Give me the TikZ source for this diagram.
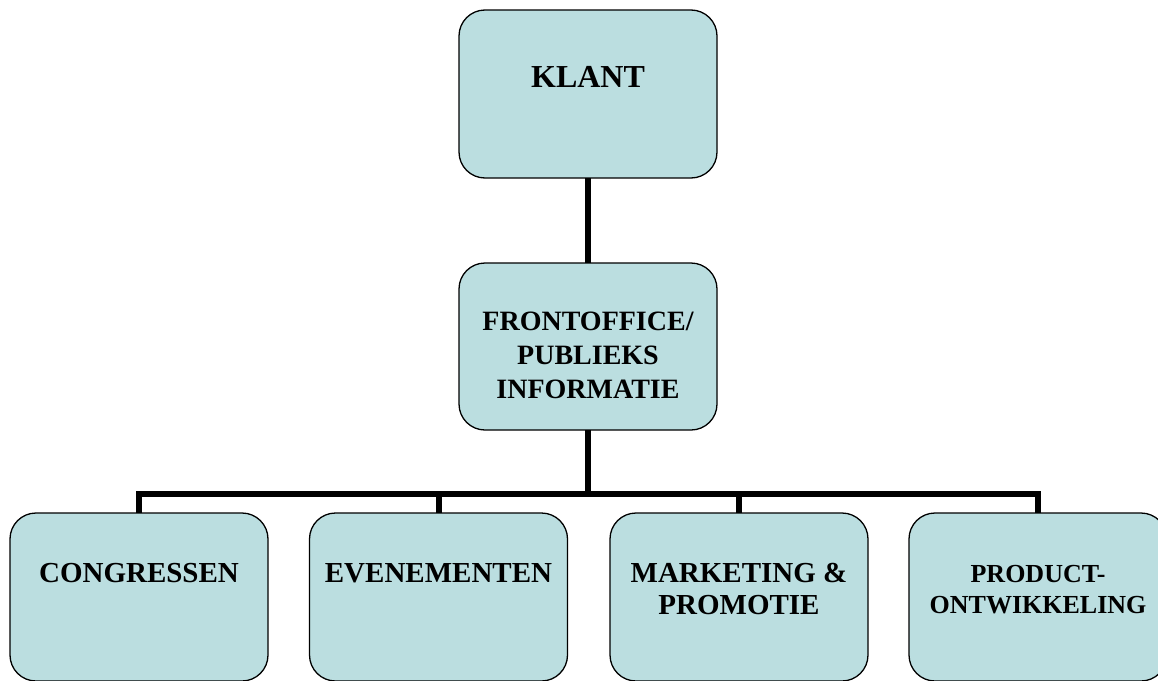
\documentclass[tikz,border=0pt]{standalone}
\usepackage{fontspec}
\setmainfont{Liberation Serif}
\usetikzlibrary{positioning}
\definecolor{boxfill}{RGB}{187,222,224}
\newcommand{\myfirstline}[1]{\rule{0pt}{#1}}
\begin{document}
\begin{tikzpicture}[x=1pt,y=-1pt,
  box/.style={draw=black, line width=1.3pt, fill=boxfill, rounded corners=26pt,
    minimum width=258pt, minimum height=168pt, inner sep=0pt, outer sep=0pt},
  conn/.style={draw=black, line width=6pt, line join=miter, line cap=butt},
  lbl/.style={align=center, inner sep=0pt, text=black},
  fk/.style={font=\bfseries\fontsize{32}{36}\selectfont},
  ff/.style={font=\bfseries\fontsize{28}{34}\selectfont},
  fb/.style={font=\bfseries\fontsize{29}{32}\selectfont},
  fp/.style={font=\bfseries\fontsize{26}{31}\selectfont}]
\useasboundingbox (0,0) rectangle (1158,680);
% boxes
\node[box] (klant) at (588,94) {};
\node[box, minimum height=167pt] (front) at (588,346.5) {};
\node[box] (c1) at (139,597) {};
\node[box] (c2) at (438.5,597) {};
\node[box] (c3) at (739,597) {};
\node[box] (c4) at (1038,597) {};
% connectors
\coordinate (bus) at (588,494);
\draw[conn] (klant.south) -- (front.north);
\draw[conn] (front.south) -- (bus);
\draw[conn] (c1.north) -- (c1.north |- bus) -- (c4.north |- bus) -- (c4.north);
\draw[conn] (c2.north) -- (c2.north |- bus);
\draw[conn] (c3.north) -- (c3.north |- bus);
% labels
\node[lbl, fk, below=52pt of klant.north] (tklant)
  {\myfirstline{25pt}KLANT};
\node[lbl, ff, below=45pt of front.north] (tfront)
  {\myfirstline{22pt}FRONTOFFICE/\\PUBLIEKS\\INFORMATIE};
\node[lbl, fb, below=47pt of c1.north] (tc1)
  {\myfirstline{22pt}CONGRESSEN};
\node[lbl, fb, below=47pt of c2.north] (tc2)
  {\myfirstline{22pt}EVENEMENTEN};
\node[lbl, fb, below=47pt of c3.north] (tc3)
  {\myfirstline{22pt}MARKETING \&\\PROMOTIE};
\node[lbl, fp, below=47pt of c4.north] (tc4)
  {\myfirstline{22pt}PRODUCT-\\ONTWIKKELING};
\end{tikzpicture}
\end{document}
